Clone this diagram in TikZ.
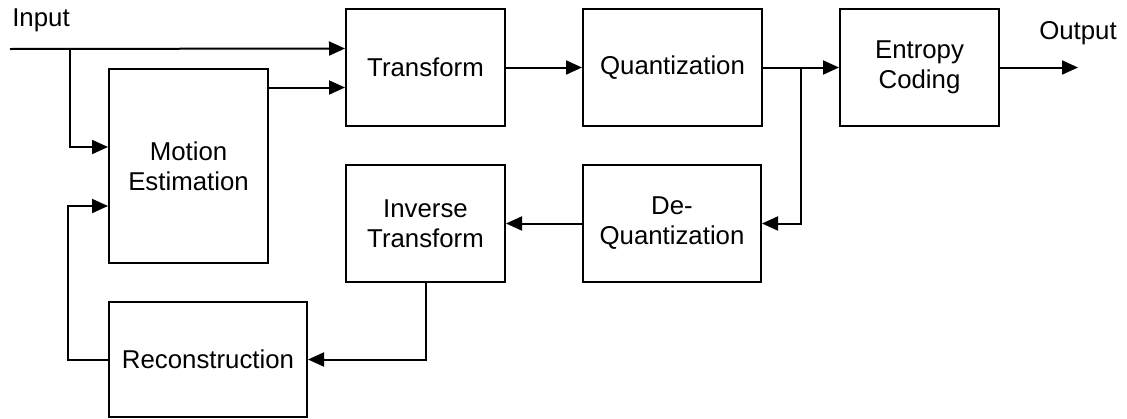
\documentclass[tikz,border=0pt]{standalone}
\usepackage{fontspec}
\setmainfont{Liberation Sans}
\usetikzlibrary{arrows.meta}

\begin{document}
\begin{tikzpicture}[x=0.5pt,y=-0.5pt,line width=1pt,
    font=\fontsize{12.9}{15}\selectfont,
    >={Triangle[length=8pt,width=7pt]},
    block/.style={draw,align=center,inner sep=0pt,minimum height=58.5pt}]
  \useasboundingbox (0,0) rectangle (1127,418);
  \node[block,minimum width=79.5pt] (T) at (425.5,67.5) {Transform};
  \node[block,minimum width=89.5pt] (Q) at (672.5,67.5) {Quantization};
  \node[block,minimum width=79.5pt] (E) at (919.5,67.5) {Entropy\\Coding};
  \node[block,minimum width=79.5pt,minimum height=97pt] (ME) at (188.5,166) {Motion\\Estimation};
  \node[block,minimum width=79.5pt] (IT) at (425.5,223.5) {Inverse\\Transform};
  \node[block,minimum width=89pt] (DQ) at (672,223.5) {De-\\Quantization};
  \node[block,minimum width=99pt,minimum height=57.5pt] (R) at (208,359.5) {Reconstruction};
  \node (input) at (41,20) {Input};
  \node (output) at (1078,33) {Output};
  \coordinate (in) at (10,49);
  \coordinate (split) at (70,49);
  \coordinate (tap) at (801,67.5);
  \coordinate (out) at (1078,67.5);
  \coordinate (t1) at ([yshift=9.5pt]T.west);
  \coordinate (t2) at ([yshift=-10pt]T.west);

  \draw[->] (in) -- (t1);
  \draw[->] (split) |- ([yshift=9.5pt]ME.west);
  \draw[->] (ME.east |- t2) -- (t2);
  \draw[->] (T) -- (Q);
  \draw[->] (Q) -- (E);
  \draw[->] (E) -- (out);
  \draw[->] (tap) |- (DQ.east);
  \draw[->] (DQ) -- (IT);
  \draw[->] (IT.south) |- (R.east);
  \draw[->] (R.west) -- ++(-40,0) |- ([yshift=-20pt]ME.west);
\end{tikzpicture}
\end{document}
